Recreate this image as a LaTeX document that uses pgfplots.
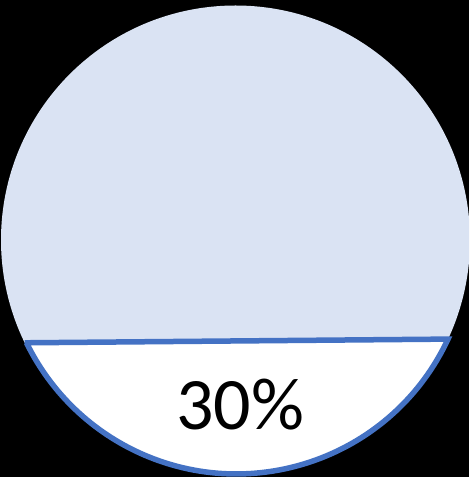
\documentclass[border=0pt]{standalone}
\usepackage{pgfplots}
\pgfplotsset{compat=1.18}
\usepackage{fontspec}
\setmainfont{Carlito}
\definecolor{fillblue}{HTML}{DAE3F3}
\definecolor{lineblue}{HTML}{4472C4}
\def\pct{30}
\begin{document}
\begin{tikzpicture}
\begin{axis}[
  at={(0,0)}, anchor=south west,
  width=469pt, height=477pt, scale only axis,
  xmin=0, xmax=469, ymin=0, ymax=477,
  axis line style={draw=none}, ticks=none,
  axis background/.style={fill=black},
  clip=true,
]
% full circle
\fill[fillblue] (axis cs:235.5,237) circle[radius=234.5];
% lower segment (white)
\begin{scope}
\clip (axis cs:235.5,237) circle[radius=234.5];
\fill[white] (axis cs:0,0) -- (axis cs:0,133.6) -- (axis cs:469,138.2) -- (axis cs:469,0) -- cycle;
\end{scope}
% outline of segment
\draw[lineblue, line width=5.5pt, line join=miter]
  (axis cs:24.7,134.2) -- (axis cs:448.0,137.9)
  arc[start angle=335, end angle=206, radius=233.5] -- cycle;
\node[anchor=base, inner sep=0pt, font=\fontsize{74}{80}\selectfont] at (axis cs:240,47) {\pct\%};
\end{axis}
\pgfresetboundingbox
\useasboundingbox (0,0) rectangle (469pt,477pt);
\end{tikzpicture}
\end{document}
